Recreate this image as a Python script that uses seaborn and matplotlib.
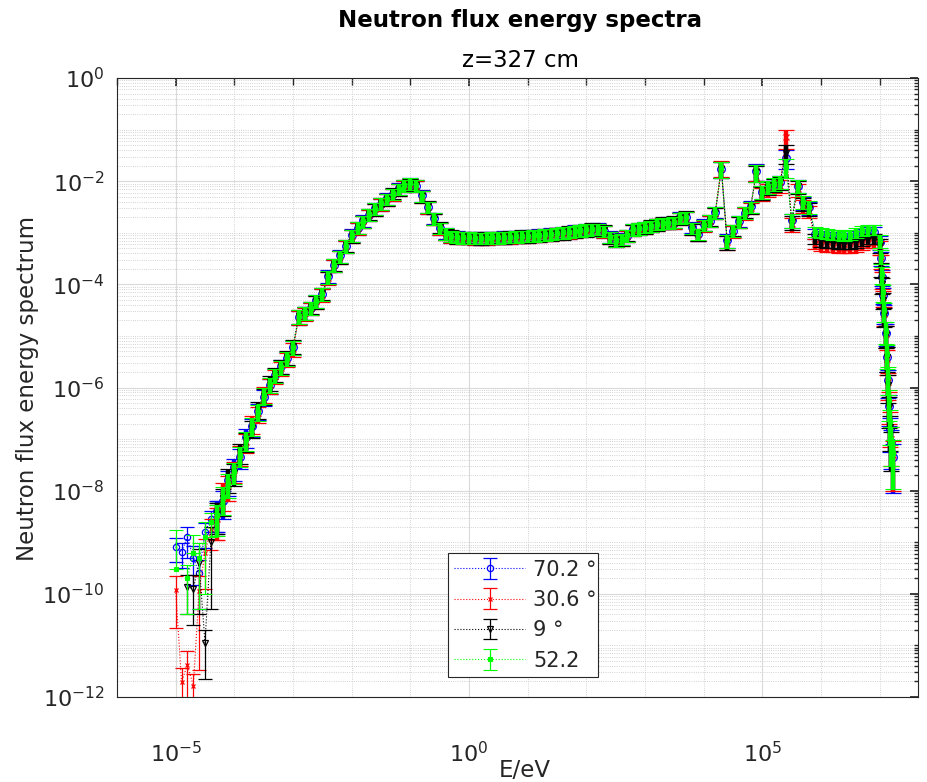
import numpy as np
import pandas as pd
import matplotlib
matplotlib.use("Agg")
import matplotlib.pyplot as plt
import seaborn as sns
from matplotlib.ticker import FixedLocator, LogLocator, NullFormatter, LogFormatterSciNotation

nan = float("nan")

# ---------------- data ----------------
energy_eV = [
    1.00e-5, 1.26e-5, 1.58e-5, 2.00e-5, 2.51e-5, 3.16e-5, 3.98e-5, 5.01e-5, 6.31e-5, 7.94e-5,
    1.00e-4, 1.26e-4, 1.58e-4, 2.00e-4, 2.51e-4, 3.16e-4, 3.98e-4, 5.01e-4, 6.31e-4, 7.94e-4,
    1.00e-3, 1.26e-3, 1.58e-3, 2.00e-3, 2.51e-3, 3.16e-3, 3.98e-3, 5.01e-3, 6.31e-3, 7.94e-3,
    1.00e-2, 1.26e-2, 1.58e-2, 2.00e-2, 2.51e-2, 3.16e-2, 3.98e-2, 5.01e-2, 6.31e-2, 7.94e-2,
    1.00e-1, 1.26e-1, 1.58e-1, 2.00e-1, 2.51e-1, 3.16e-1, 3.98e-1, 5.01e-1, 6.31e-1, 7.94e-1,
    1.00e0, 1.26e0, 1.58e0, 2.00e0, 2.51e0, 3.16e0, 3.98e0, 5.01e0, 6.31e0, 7.94e0,
    1.00e1, 1.26e1, 1.58e1, 2.00e1, 2.51e1, 3.16e1, 3.98e1, 5.01e1, 6.31e1, 7.94e1,
    1.00e2, 1.26e2, 1.58e2, 2.00e2, 2.51e2, 3.16e2, 3.98e2, 5.01e2, 6.31e2, 7.94e2,
    1.00e3, 1.26e3, 1.58e3, 2.00e3, 2.51e3, 3.16e3, 3.98e3, 5.01e3, 6.31e3, 7.94e3,
    1.00e4, 1.26e4, 1.58e4, 2.00e4, 2.51e4, 3.16e4, 3.98e4, 5.01e4, 6.31e4, 7.94e4,
    1.00e5, 1.26e5, 1.58e5, 2.00e5, 2.51e5, 3.16e5, 3.98e5, 5.01e5, 6.31e5, 7.94e5,
    1.00e6, 1.26e6, 1.58e6, 2.00e6, 2.51e6, 3.16e6, 3.98e6, 5.01e6, 6.31e6, 7.94e6,
    1.00e7, 1.05e7, 1.10e7, 1.15e7, 1.20e7, 1.26e7, 1.32e7, 1.38e7, 1.45e7, 1.51e7, 1.58e7, 1.66e7,
]

flux_70_2 = [
    8.13e-10, 6.46e-10, 1.26e-9, 5.01e-10, 2.51e-10, 1.58e-9, 2.82e-9, 3.98e-9, 6.31e-9, 1.58e-8,
    2.82e-8, 4.47e-8, 1.12e-7, 1.78e-7, 3.55e-7, 6.61e-7, 1.12e-6, 1.74e-6, 2.57e-6, 3.72e-6,
    6.17e-6, 2.34e-5, 2.88e-5, 3.47e-5, 4.90e-5, 6.46e-5, 1.45e-4, 2.34e-4, 3.63e-4, 5.50e-4,
    9.12e-4, 1.23e-3, 1.74e-3, 2.24e-3, 3.02e-3, 3.63e-3, 4.68e-3, 5.62e-3, 7.24e-3, 8.13e-3,
    9.33e-3, 8.13e-3, 5.37e-3, 3.09e-3, 1.95e-3, 1.23e-3, 1.00e-3, 8.51e-4, 8.51e-4, 7.94e-4,
    8.32e-4, 7.76e-4, 8.13e-4, 7.76e-4, 8.32e-4, 7.94e-4, 8.51e-4, 8.13e-4, 8.71e-4, 8.51e-4,
    8.91e-4, 8.71e-4, 9.33e-4, 9.12e-4, 9.77e-4, 9.77e-4, 1.05e-3, 1.02e-3, 1.12e-3, 1.10e-3,
    1.20e-3, 1.17e-3, 1.23e-3, 1.07e-3, 8.51e-4, 6.92e-4, 7.76e-4, 8.71e-4, 1.20e-3, 1.20e-3,
    1.32e-3, 1.35e-3, 1.51e-3, 1.55e-3, 1.62e-3, 1.58e-3, 2.00e-3, 2.00e-3, 1.29e-3, 9.33e-4,
    1.45e-3, 1.70e-3, 2.57e-3, 1.74e-2, 7.24e-4, 1.10e-3, 1.70e-3, 2.45e-3, 3.24e-3, 1.58e-2,
    6.17e-3, 7.76e-3, 8.71e-3, 9.77e-3, 2.82e-2, 1.74e-3, 8.13e-3, 3.89e-3, 3.09e-3, 9.55e-4,
    8.91e-4, 8.51e-4, 8.32e-4, 8.13e-4, 7.94e-4, 8.13e-4, 8.91e-4, 9.77e-4, 1.05e-3, 1.05e-3,
    6.61e-4, 3.24e-4, 1.41e-4, 6.31e-5, 2.82e-5, 1.15e-5, 3.98e-6, 1.41e-6, 4.47e-7, 1.58e-7, 8.91e-8, 4.47e-8,
]

flux_30_6 = [
    1.20e-10, 1.95e-12, 4.17e-12, 1.66e-12, 1.12e-10, 6.31e-10, 1.78e-9, 2.82e-9, 8.91e-9, 1.26e-8,
    2.51e-8, 5.25e-8, 8.91e-8, 2.00e-7, 3.16e-7, 7.59e-7, 1.12e-6, 1.66e-6, 2.40e-6, 3.55e-6,
    5.62e-6, 2.29e-5, 2.75e-5, 3.47e-5, 4.68e-5, 6.31e-5, 1.35e-4, 2.34e-4, 3.47e-4, 5.50e-4,
    8.71e-4, 1.23e-3, 1.66e-3, 2.24e-3, 2.88e-3, 3.63e-3, 4.47e-3, 5.62e-3, 6.92e-3, 8.13e-3,
    8.91e-3, 8.13e-3, 5.13e-3, 3.09e-3, 1.86e-3, 1.23e-3, 9.55e-4, 8.51e-4, 8.13e-4, 7.94e-4,
    7.94e-4, 7.76e-4, 7.76e-4, 7.76e-4, 7.94e-4, 7.94e-4, 8.13e-4, 8.13e-4, 8.32e-4, 8.51e-4,
    8.51e-4, 8.71e-4, 8.91e-4, 9.12e-4, 9.33e-4, 9.77e-4, 1.00e-3, 1.02e-3, 1.07e-3, 1.10e-3,
    1.15e-3, 1.17e-3, 1.17e-3, 1.07e-3, 8.13e-4, 6.92e-4, 7.41e-4, 8.71e-4, 1.15e-3, 1.20e-3,
    1.26e-3, 1.35e-3, 1.45e-3, 1.55e-3, 1.55e-3, 1.58e-3, 1.91e-3, 2.00e-3, 1.23e-3, 9.33e-4,
    1.38e-3, 1.70e-3, 2.45e-3, 1.82e-2, 6.61e-4, 1.07e-3, 1.62e-3, 2.40e-3, 3.02e-3, 1.55e-2,
    5.75e-3, 6.92e-3, 7.59e-3, 8.13e-3, 7.08e-2, 1.51e-3, 6.92e-3, 3.31e-3, 2.63e-3, 6.17e-4,
    5.75e-4, 5.50e-4, 5.37e-4, 5.25e-4, 5.13e-4, 5.25e-4, 5.50e-4, 6.03e-4, 6.46e-4, 6.61e-4,
    5.25e-4, 2.82e-4, 1.26e-4, 5.62e-5, 2.63e-5, 1.07e-5, 3.55e-6, 1.26e-6, 5.01e-7, 2.00e-7, 1.00e-7, 5.01e-8,
]

flux_9 = [
    nan, nan, 1.38e-10, 1.26e-10, 3.98e-10, 1.12e-11, 1.00e-9, 3.55e-9, 7.08e-9, 1.78e-8,
    2.24e-8, 5.62e-8, 9.55e-8, 1.66e-7, 3.80e-7, 6.92e-7, 1.26e-6, 1.86e-6, 2.63e-6, 3.98e-6,
    6.31e-6, 2.45e-5, 2.88e-5, 3.63e-5, 4.68e-5, 6.76e-5, 1.38e-4, 2.45e-4, 3.47e-4, 5.75e-4,
    8.71e-4, 1.29e-3, 1.66e-3, 2.34e-3, 2.88e-3, 3.80e-3, 4.47e-3, 5.89e-3, 6.92e-3, 8.51e-3,
    8.91e-3, 8.51e-3, 5.13e-3, 3.24e-3, 1.86e-3, 1.29e-3, 9.55e-4, 8.91e-4, 8.13e-4, 8.32e-4,
    7.94e-4, 8.13e-4, 7.76e-4, 8.13e-4, 7.94e-4, 8.32e-4, 8.13e-4, 8.51e-4, 8.32e-4, 8.91e-4,
    8.51e-4, 9.12e-4, 8.91e-4, 9.55e-4, 9.33e-4, 1.00e-3, 9.77e-4, 1.07e-3, 1.05e-3, 1.15e-3,
    1.12e-3, 1.23e-3, 1.17e-3, 1.12e-3, 8.13e-4, 7.24e-4, 7.41e-4, 9.12e-4, 1.15e-3, 1.26e-3,
    1.26e-3, 1.41e-3, 1.45e-3, 1.62e-3, 1.55e-3, 1.66e-3, 1.91e-3, 2.09e-3, 1.20e-3, 9.12e-4,
    1.41e-3, 1.78e-3, 2.45e-3, 1.74e-2, 6.76e-4, 1.15e-3, 1.62e-3, 2.57e-3, 3.09e-3, 1.48e-2,
    6.03e-3, 7.59e-3, 8.51e-3, 9.55e-3, 3.55e-2, 1.62e-3, 7.94e-3, 3.63e-3, 2.95e-3, 7.59e-4,
    6.92e-4, 6.61e-4, 6.46e-4, 6.31e-4, 6.17e-4, 6.31e-4, 6.61e-4, 7.24e-4, 7.59e-4, 7.76e-4,
    5.89e-4, 2.00e-4, 1.00e-4, 5.01e-5, 2.51e-5, 1.05e-5, 3.98e-6, 1.12e-6, 4.17e-7, 1.70e-7, 7.94e-8, nan,
]

flux_52_2 = [
    3.02e-10, nan, 2.00e-10, 6.31e-10, 5.01e-10, 1.26e-9, 2.51e-9, 3.31e-9, 7.59e-9, 1.41e-8,
    2.40e-8, 5.01e-8, 1.00e-7, 1.86e-7, 3.39e-7, 7.24e-7, 1.17e-6, 1.78e-6, 2.51e-6, 3.80e-6,
    6.03e-6, 2.40e-5, 2.82e-5, 3.55e-5, 4.79e-5, 6.61e-5, 1.41e-4, 2.40e-4, 3.55e-4, 5.62e-4,
    8.91e-4, 1.26e-3, 1.70e-3, 2.29e-3, 2.95e-3, 3.72e-3, 4.57e-3, 5.75e-3, 7.08e-3, 8.32e-3,
    9.12e-3, 8.32e-3, 5.25e-3, 3.16e-3, 1.91e-3, 1.26e-3, 9.77e-4, 8.71e-4, 8.32e-4, 8.13e-4,
    8.13e-4, 7.94e-4, 7.94e-4, 7.94e-4, 8.13e-4, 8.13e-4, 8.32e-4, 8.32e-4, 8.51e-4, 8.71e-4,
    8.71e-4, 8.91e-4, 9.12e-4, 9.33e-4, 9.55e-4, 1.00e-3, 1.02e-3, 1.05e-3, 1.10e-3, 1.12e-3,
    1.17e-3, 1.20e-3, 1.20e-3, 1.10e-3, 8.32e-4, 7.08e-4, 7.59e-4, 8.91e-4, 1.17e-3, 1.23e-3,
    1.29e-3, 1.38e-3, 1.48e-3, 1.58e-3, 1.58e-3, 1.62e-3, 1.95e-3, 2.04e-3, 1.26e-3, 9.55e-4,
    1.41e-3, 1.74e-3, 2.51e-3, 1.78e-2, 7.08e-4, 1.12e-3, 1.66e-3, 2.51e-3, 3.16e-3, 1.51e-2,
    6.31e-3, 7.94e-3, 8.91e-3, 1.00e-2, 1.91e-2, 1.78e-3, 8.32e-3, 3.98e-3, 3.16e-3, 1.05e-3,
    1.00e-3, 9.55e-4, 9.33e-4, 9.12e-4, 8.91e-4, 9.12e-4, 1.00e-3, 1.10e-3, 1.17e-3, 1.17e-3,
    7.08e-4, 3.55e-4, 1.58e-4, 7.08e-5, 3.16e-5, 1.26e-5, 4.47e-6, 1.58e-6, 5.62e-7, 2.24e-7, 1.00e-7, 5.37e-8,
]

# relative errors of the first seven (lowest-energy) bins, per series
rel_err_low_70_2 = [0.5, 0.5, 0.6, 0.7, 0.8, 0.5, 0.45]
rel_err_low_30_6 = [0.82, 0.9, 0.85, 0.7, 0.97, 0.8, 0.6]
rel_err_low_9 = [0.5, 0.5, 0.7, 0.8, 0.9, 0.8, 0.95]
rel_err_low_52_2 = [4.8, 0.5, 0.8, 1.2, 0.9, 0.92, 0.5]

# relative errors of the remaining bins (shared by the four angles)
rel_err_common = [
    0.6, 0.55, 0.5, 0.45, 0.42, 0.4, 0.38, 0.35, 0.33, 0.32,
    0.3, 0.3, 0.3, 0.3, 0.3, 0.28, 0.28, 0.28, 0.28, 0.28,
    0.27, 0.27, 0.27, 0.27, 0.26, 0.26, 0.26, 0.26, 0.26, 0.26,
    0.25, 0.25, 0.25, 0.25, 0.25, 0.25, 0.25, 0.25, 0.25, 0.25,
    0.25, 0.25, 0.25, 0.25, 0.25, 0.25, 0.25, 0.25, 0.25, 0.25,
    0.25, 0.25, 0.25, 0.25, 0.25, 0.25, 0.25, 0.25, 0.25, 0.25,
    0.25, 0.25, 0.25, 0.25, 0.25, 0.25, 0.25, 0.25, 0.25, 0.25,
    0.25, 0.25, 0.25, 0.25, 0.25, 0.25, 0.25, 0.25, 0.25, 0.25,
    0.25, 0.25, 0.25, 0.25, 0.25, 0.25, 0.35, 0.3, 0.25, 0.25,
    0.25, 0.25, 0.35, 0.28, 0.28, 0.28, 0.28, 0.4, 0.3, 0.28,
    0.28, 0.28, 0.22, 0.22, 0.22, 0.22, 0.22, 0.22, 0.22, 0.22,
    0.22, 0.22, 0.22, 0.3, 0.3, 0.35, 0.35, 0.4, 0.45, 0.5,
    0.55, 0.6, 0.65, 0.7, 0.8,
]

series_labels = ["70.2 °", "30.6 °", "9 °", "52.2"]
series_flux = [flux_70_2, flux_30_6, flux_9, flux_52_2]
series_rel_low = [rel_err_low_70_2, rel_err_low_30_6, rel_err_low_9, rel_err_low_52_2]
N_SPARSE = 8  # lowest-energy bins drawn with thin bars

# ---------------- build a long table ----------------
frames = []
for lab, fl, rl in zip(series_labels, series_flux, series_rel_low):
    frames.append(pd.DataFrame({
        "E": energy_eV,
        "flux": fl,
        "rel": rl + rel_err_common,
        "angle": lab,
    }))
df = pd.concat(frames, ignore_index=True)

# ---------------- style ----------------
sns.set_theme(style="white")
plt.rcParams["font.family"] = ["DejaVu Sans"]
plt.rcParams["mathtext.default"] = "regular"
plt.rcParams["axes.unicode_minus"] = True

fig = plt.figure(figsize=(9.27, 7.82), dpi=100)
fig.patch.set_facecolor("white")
ax = fig.add_axes([117 / 927, 85 / 782, 801 / 927, 619 / 782])
ax.set_facecolor("white")

styles = {
    "70.2 °": dict(color=(0, 0, 1), marker="o", mfc="none", mew=0.9),
    "30.6 °": dict(color=(1, 0, 0), marker="x", mew=0.9),
    "9 °": dict(color=(0, 0, 0), marker="v", mfc="none", mew=0.9),
    "52.2": dict(color=(0, 1, 0), marker="s", mew=0.8),
}
sizes = {"70.2 °": 4.5, "30.6 °": 3.5, "9 °": 4.0, "52.2": 2.5}

for i, lab in enumerate(series_labels):
    sub = df[df["angle"] == lab]
    E = sub["E"].to_numpy(float)
    f = sub["flux"].to_numpy(float)
    rel = sub["rel"].to_numpy(float)
    upper = rel * f
    lower = np.where(rel < 1, rel * f, 0.0)
    s_ = slice(0, N_SPARSE)
    d_ = slice(N_SPARSE - 1, None)
    # sparse low-energy part: thin bars (also provides the legend entry)
    ax.errorbar(E[s_], f[s_], yerr=[lower[s_], upper[s_]], fmt=":",
                lw=0.8, capsize=5, elinewidth=0.9, capthick=0.9,
                ms=sizes[lab], zorder=3 + i, label=lab, **styles[lab])
    # dense part: heavier bars so that the bins merge into a band
    ax.errorbar(E[d_], f[d_], yerr=[lower[d_], upper[d_]], fmt=":",
                lw=0.8, capsize=5.5, elinewidth=3.2, capthick=1.3,
                ms=sizes[lab] + 1, zorder=3 + i, **styles[lab])

ax.set_xscale("log")
ax.set_yscale("log")
ax.set_xlim(1e-6, 4.5e7)
ax.set_ylim(1e-12, 1)

ax.xaxis.set_major_locator(FixedLocator([1e-5, 1, 1e5]))
ax.xaxis.set_minor_locator(FixedLocator([10.0 ** k for k in range(-6, 8)]))
ax.xaxis.set_major_formatter(LogFormatterSciNotation())
ax.xaxis.set_minor_formatter(NullFormatter())
ax.yaxis.set_major_locator(FixedLocator([10.0 ** k for k in range(-12, 1, 2)]))
ax.yaxis.set_minor_locator(LogLocator(base=10, subs=np.arange(1, 10), numticks=100))
ax.yaxis.set_major_formatter(LogFormatterSciNotation())
ax.yaxis.set_minor_formatter(NullFormatter())

ax.grid(True, which="major", color="#dadada", lw=0.8, ls="-")
ax.grid(True, which="minor", color="#c4c4c4", lw=0.6, ls=":")
ax.set_axisbelow(True)

ax.tick_params(which="both", direction="in", top=True, right=True,
               color="#262626", labelcolor="#262626")
ax.tick_params(axis="y", which="major", length=6, labelsize=16, pad=9)
ax.tick_params(axis="y", which="minor", length=3)
ax.tick_params(axis="x", which="major", length=6, labelsize=16, pad=32)
ax.tick_params(axis="x", which="minor", length=5)
for s in ax.spines.values():
    s.set_color("#262626")
    s.set_linewidth(0.8)

fig.text(520 / 927, 1 - 27 / 782, "Neutron flux energy spectra", ha="center",
         va="baseline", fontsize=16.5, fontweight="bold", color="black")
fig.text(520 / 927, 1 - 67 / 782, "z=327 cm", ha="center", va="baseline",
         fontsize=16.5, color="black")
fig.text(28 / 927, 1 - 388 / 782, "Neutron flux energy spectrum", rotation=90,
         ha="center", va="center", fontsize=16.5, color="#262626")
fig.text(525 / 927, 1 - 777 / 782, "E/eV", ha="center", va="baseline",
         fontsize=16.5, color="#262626")

leg = ax.legend(loc="lower left",
                bbox_to_anchor=(448 / 927, 1 - 677 / 782, 150 / 927, 132 / 782),
                bbox_transform=fig.transFigure, mode="expand",
                fontsize=15, frameon=True, fancybox=False, framealpha=1,
                edgecolor="#262626", borderpad=0.3, labelspacing=0.5,
                handlelength=3.4, handletextpad=0.4, borderaxespad=0, numpoints=1)
leg.get_frame().set_linewidth(0.8)
leg.set_zorder(20)

fig.savefig("out.png", dpi=100, facecolor="white")
